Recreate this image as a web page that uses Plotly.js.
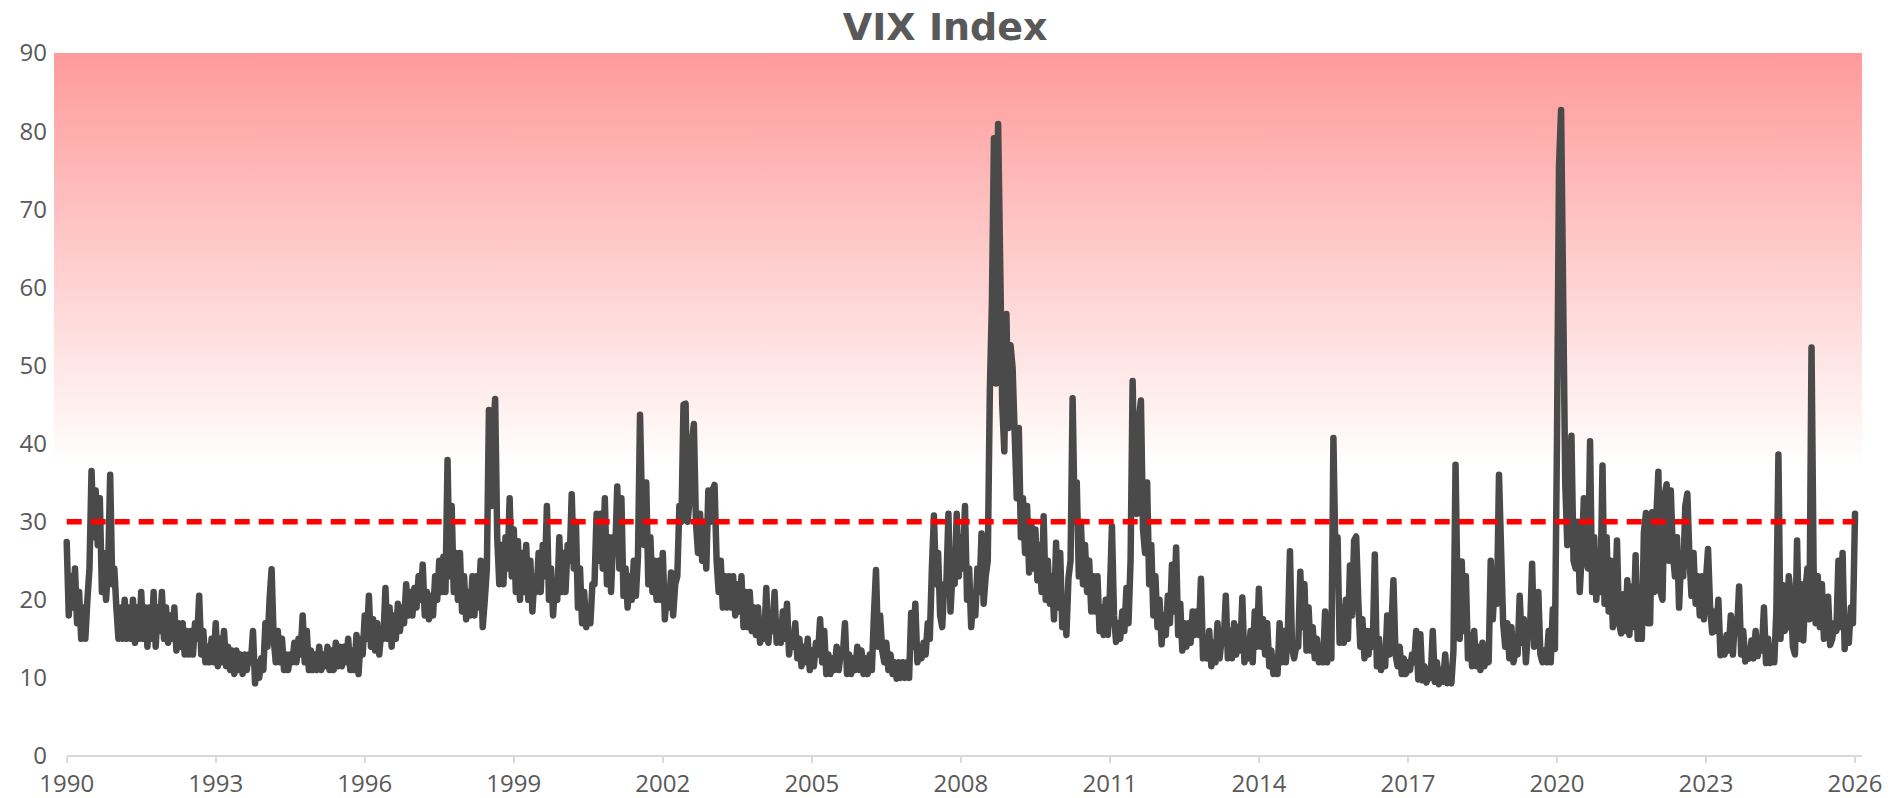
<!DOCTYPE html>
<html>
<head>
<meta charset="utf-8">
<script src="https://cdn.plot.ly/plotly-3.0.1.min.js"></script>
<style>
  html, body { margin: 0; padding: 0; background: #ffffff; }
  #chart { width: 1898px; height: 798px; }
</style>
</head>
<body>
<div id="chart"></div>
<script>
// ---- DATA (VIX close readings, two per month: first half, second half) ----
// Series starts with the second half of Feb 1990.
const vix1990s = [
  27.4, 18, 23, 19, 24, 17, 21, 15, 19, 15, 20, 24, 36.5, 28, 34, 27, 33, 21, 26, 20, 24,
  36, 22, 24, 19, 15, 19, 15, 20, 15, 19, 15, 20, 14.5, 19, 15, 21, 15, 19, 14, 19, 15, 21, 14, 19,
  16, 21, 15, 19, 14.5, 18, 15, 19, 13.5, 17, 14, 17, 13, 16, 13, 16, 13, 17, 15, 20.5, 13, 16, 12, 14,
  12, 15, 12, 17, 11.5, 15, 12, 16, 11.5, 14, 11, 13.5, 10.5, 13.5, 11, 13, 10.5, 13, 11, 13, 12, 16, 9.3, 12,
  10, 12.5, 11, 17, 14, 20, 23.9, 15, 12, 16, 12, 15, 11, 13, 11, 13, 12, 14.5, 12, 15, 13, 18, 12, 16,
  11, 13.5, 11, 13, 11, 14, 11, 13, 11.5, 14, 11, 13.5, 11, 14.5, 11.5, 14, 11.5, 14, 12, 15, 11, 13.5, 11, 15.5,
  10.5, 15, 13, 18, 15, 20.5, 14, 17.5, 13.5, 17, 13, 16, 15, 21.5, 15, 19, 14, 18, 15, 19.5, 16, 19, 17, 22,
  18, 21, 18, 21.5, 19, 23, 20, 24.5, 18, 21, 17.5, 20.5, 18, 23, 20, 25, 21, 25.5, 21, 37.9, 23, 32, 21, 26,
  20, 26, 18.5, 23, 17.5, 21, 18, 23, 18, 23, 19, 25, 16.5, 20, 24, 44.3, 32, 41, 45.7, 28, 22, 27, 22, 28,
  24, 33, 23, 29, 21, 27.5, 20, 26, 21, 27, 20, 25, 18.5, 23, 21, 26, 21, 27, 23, 32, 20, 24, 18, 22.5
];
const vix2000s = [
  20, 28, 21, 26, 21, 27, 25, 33.5, 24, 30, 19, 24, 17, 21, 16.5, 19, 17, 22, 22, 31, 25, 31, 24, 33,
  22, 28, 21, 28, 26, 34.5, 24, 33, 20.5, 24, 19, 23, 20, 25, 20.5, 25.5, 43.7, 31, 27, 35, 22, 28, 21, 25,
  20, 25, 20, 26, 17.5, 21.5, 19, 23.5, 18, 22, 23, 32, 30, 45, 45.1, 30, 33, 40, 42.5, 30, 26, 31, 25, 30,
  24, 34, 30, 34, 34.7, 25, 21, 25, 19, 23, 19, 23, 19, 23, 18, 22, 18.5, 23, 16.5, 21, 16.5, 21, 16, 19,
  15.5, 19, 14.5, 17, 15, 21.5, 14.5, 18, 16, 21, 14.5, 17, 14.5, 18.5, 15, 19.5, 13, 15.5, 14, 17, 12.5, 15, 11.5, 14,
  12, 15, 11, 13.5, 11.5, 14.5, 13, 17.5, 12, 16, 10.5, 13, 10.5, 12.5, 11, 14, 11, 13.5, 13, 17, 10.5, 13, 10.5, 12.5,
  11, 14, 11, 13.5, 10.5, 12.5, 10.5, 13, 11, 18, 23.8, 14, 18, 13.5, 12, 14.5, 11, 13, 10.5, 12, 9.9, 12, 10, 12,
  10, 12, 10, 18.3, 14, 19.5, 12, 14, 12.5, 14.5, 13, 17, 15, 24, 30.8, 22, 26, 18, 16.5, 22, 22, 31, 18.5, 23.5,
  22, 31, 23, 28, 24, 32, 20, 24, 16.5, 20, 18, 24, 21, 28.5, 19.5, 23, 25, 46.7, 58, 79.1, 47.7, 80.9, 59, 45,
  39, 56.6, 42, 52.6, 49.7, 40, 33, 42, 28, 33, 26, 32, 23.5, 30, 24, 29, 22.5, 27, 21, 30.7, 20, 25, 19.5, 23
];
const vix2010s = [
  17.5, 27.3, 19, 26, 16.5, 19, 15.5, 22.8, 25, 45.8, 30, 35, 23, 30, 22, 27, 21, 25, 18.5, 23, 18.5, 23, 16, 19,
  15.5, 20, 15.5, 21, 29.4, 18, 14.6, 17, 15, 18.5, 16, 21.5, 17, 25, 48, 33, 31, 43, 45.5, 29, 26, 35, 22, 27,
  18, 23, 16.5, 20, 14.3, 18, 15.5, 20.5, 17, 24.5, 18.5, 26.7, 15.5, 19.5, 13.5, 17, 14, 17, 14.5, 18.5, 15.5, 18.5, 15.5, 22.7,
  12.5, 14.5, 12.5, 16, 11.5, 14.5, 12, 17, 12.5, 15, 14.5, 20.5, 12.5, 16, 12.5, 17, 13, 16.5, 13.5, 20.3, 12, 14, 12.5, 16,
  12, 18.5, 14, 21.4, 14, 17.5, 13, 17, 11.5, 13.5, 10.5, 12.5, 10.5, 17, 12, 16, 12, 16, 26.2, 14, 12.5, 14, 14, 23.6,
  16.5, 22, 13.5, 19, 13.5, 16.5, 12.5, 15, 12, 14, 12, 18.5, 12, 17, 12.5, 40.7, 25, 28, 14.5, 19, 14.5, 20, 15, 24.4,
  18, 27.6, 28.1, 20, 14, 17.5, 12.5, 16, 13, 16, 14, 25.8, 11.5, 15, 11, 13.5, 11.5, 18, 13, 16.5, 22.5, 13, 11.5, 14,
  10.5, 12.5, 10.5, 12, 11, 13, 12, 16, 9.8, 15.6, 9.7, 11.5, 9.4, 11, 10, 16, 9.5, 12, 9.2, 11, 9.5, 13, 9.3, 11,
  9.3, 13.5, 37.3, 20, 15, 24.9, 16, 23, 12.5, 15.5, 11.5, 16, 11.5, 14, 11, 14.5, 11.5, 13.5, 12, 25, 17.5, 22.5, 19.5, 36,
  25, 17, 14, 17, 12.5, 16.5, 12, 13.5, 13, 20.5, 14.5, 17.5, 12, 16, 16, 24.6, 14, 17, 21, 13, 12, 13.5, 12, 16
];
const vix2020s = [
  12, 18.8, 13.7, 40, 75.5, 82.7, 57, 35, 27, 35, 41, 25, 24, 30, 21, 26, 33, 25, 24, 40.3, 21, 28, 20, 25,
  21, 37.2, 19.5, 28, 18.5, 25, 16.5, 19, 27.6, 17, 15.7, 20.7, 16, 22.5, 15.5, 21.7, 16.5, 25.7, 15, 21, 15, 28.6, 31.1, 17,
  17, 31.2, 21, 30.5, 36.4, 21, 20, 33.4, 34.8, 25, 34, 26, 23, 28, 19, 25.5, 23, 32, 33.6, 25.5, 20.5, 26, 19.5, 23,
  18, 23, 17.5, 22.5, 26.5, 19, 15.8, 18.5, 16, 20, 12.9, 15, 13, 15.5, 13.5, 18, 13, 17.5, 16, 21.7, 13, 16, 12.1, 13.5,
  12.5, 14.8, 12.5, 16, 12.8, 15, 13.5, 19, 11.9, 15, 11.9, 13.5, 12, 18.5, 38.6, 15, 21.9, 16, 16.5, 23, 20.5, 14, 13, 27.6,
  15, 22, 14.8, 21, 24, 17.5, 52.3, 24, 17, 23, 16.5, 22, 15, 18, 20.4, 14.2, 15, 17, 16, 25, 16.5, 26, 13.7, 17.5,
  14.5, 19, 17, 31
];
const START_SEMI_MONTH = 3;          // second half of Feb 1990
const BASE_YEAR = 1990;
const THRESHOLD = 30;
const tickLabels = ['1990','1993','1996','1999','2002','2005','2008','2011','2014','2017','2020','2023','2026'];
const yTickLabels = ['0','10','20','30','40','50','60','70','80','90'];

// ---- BUILD ----
const vixValues = [].concat(vix1990s, vix2000s, vix2010s, vix2020s);
const vixDates = vixValues.map((v, i) => BASE_YEAR + (START_SEMI_MONTH + i + 0.5) / 24);
const firstX = vixDates[0];
const lastX = vixDates[vixDates.length - 1];
const tickVals = tickLabels.map((t, k) => firstX + 3 * k);
const pxPerYear = (1855 - 66.7) / 36;
const xRange = [firstX - 12.7 / pxPerYear, lastX + 7 / pxPerYear];

const gradientBand = {
  x: [xRange[0], xRange[1], xRange[1], xRange[0], xRange[0]],
  y: [37, 37, 90, 90, 37],
  type: 'scatter', mode: 'lines', fill: 'toself',
  line: { width: 0, color: 'rgba(0,0,0,0)' },
  fillcolor: 'rgba(255,155,155,0.5)',
  fillgradient: {
    type: 'vertical', start: 37, stop: 90,
    colorscale: [[0, 'rgb(255,255,255)'], [1, 'rgb(255,154,154)']]
  },
  hoverinfo: 'skip', showlegend: false
};

const vixTrace = {
  x: vixDates, y: vixValues, type: 'scatter', mode: 'lines',
  line: { color: '#4a4a4a', width: 6.5 },
  hoverinfo: 'skip', showlegend: false
};

const thresholdTrace = {
  x: [firstX, lastX], y: [THRESHOLD, THRESHOLD], type: 'scatter', mode: 'lines',
  line: { color: '#ff0000', width: 5.5, dash: '15px,9px' },
  hoverinfo: 'skip', showlegend: false
};

const fontFam = '"Open Sans", "DejaVu Sans", sans-serif';
const axisStartFrac = (firstX - xRange[0]) / (xRange[1] - xRange[0]);

const layout = {
  width: 1898, height: 798,
  margin: { l: 54, r: 36, t: 53, b: 42, pad: 0 },
  paper_bgcolor: '#ffffff', plot_bgcolor: '#ffffff',
  showlegend: false,
  title: {
    text: 'VIX Index',
    font: { family: '"DejaVu Sans", sans-serif', size: 38, color: '#595959', weight: 700 },
    x: 0.498, xref: 'container', xanchor: 'center',
    y: 0.966, yref: 'container', yanchor: 'middle'
  },
  xaxis: {
    type: 'linear', range: xRange,
    tickmode: 'array', tickvals: tickVals, ticktext: tickLabels,
    ticks: 'outside', ticklen: 6, tickwidth: 2, tickcolor: '#d9d9d9',
    showline: false, showgrid: false, zeroline: false,
    tickfont: { family: fontFam, size: 24, color: '#595959' },
    fixedrange: true
  },
  yaxis: {
    range: [0, 90],
    tickmode: 'array', tickvals: yTickLabels.map(Number), ticktext: yTickLabels,
    ticks: '', showline: false, showgrid: false, zeroline: false,
    ticklabelstandoff: 6,
    tickfont: { family: fontFam, size: 24, color: '#595959' },
    fixedrange: true
  },
  shapes: [{
    type: 'line', xref: 'paper', yref: 'paper',
    x0: axisStartFrac, x1: 1, y0: 0, y1: 0,
    line: { color: '#d9d9d9', width: 2 }, layer: 'below'
  }]
};

Plotly.newPlot('chart', [gradientBand, vixTrace, thresholdTrace], layout,
  { displayModeBar: false, staticPlot: true, responsive: false }).then(gd => {
  const traces = gd.querySelectorAll('.scatterlayer .trace');
  if (traces[1]) {
    traces[1].querySelectorAll('path.js-line').forEach(p => {
      p.style.strokeLinejoin = 'round';
      p.style.strokeLinecap = 'round';
    });
  }
});
</script>
</body>
</html>
